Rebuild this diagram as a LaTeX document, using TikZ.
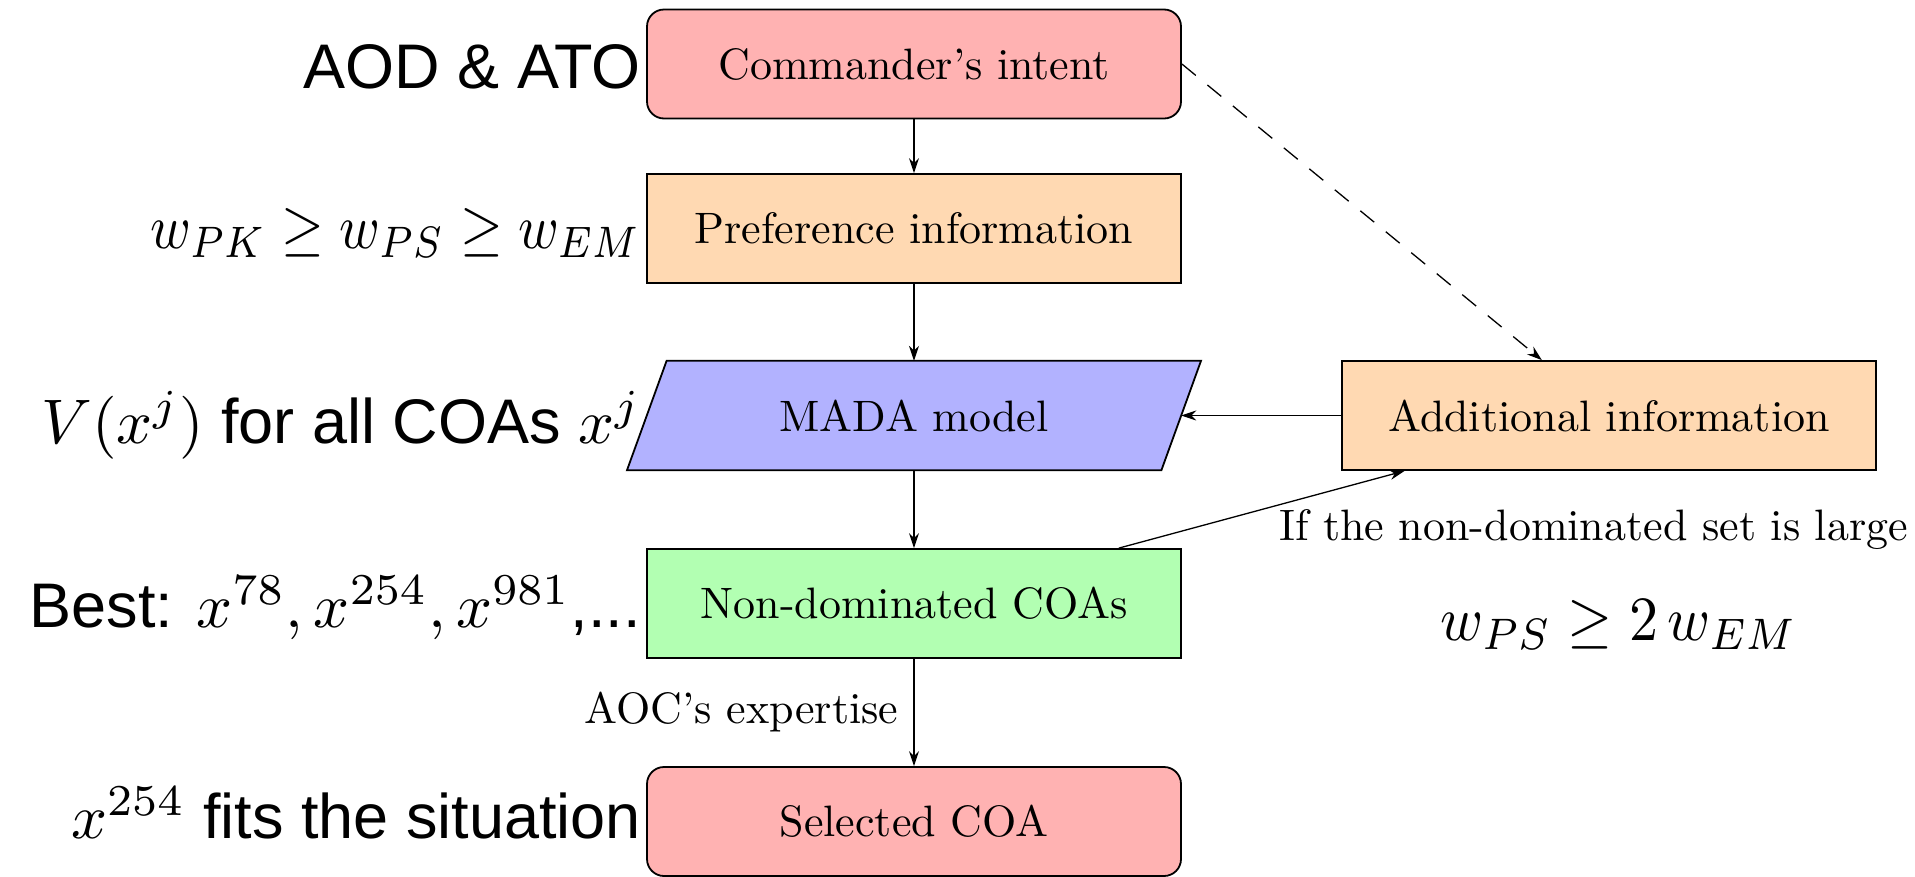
\documentclass[tikz,border=0pt]{standalone}
\usepackage{fontspec}
\newfontfamily\arialf{Liberation Sans}
\usepackage{graphicx}
\usetikzlibrary{arrows.meta,backgrounds}
\newcommand{\BoxTxt}[1]{\scalebox{4.4}{#1}}
\newcommand{\SansTxt}[1]{\scalebox{6.3}{\arialf #1}}
\newcommand{\MathTxt}[2]{\scalebox{#1}[6.3]{#2}}
\tikzset{
  boxbase/.style={rectangle, minimum width=534pt, minimum height=109pt, inner sep=0pt, draw=black, line width=1.8pt, text=black},
  startstop/.style={boxbase, rounded corners=17pt, fill=red!30},
  process/.style={boxbase, fill=orange!30},
  ndbox/.style={boxbase, fill=green!30},
  iobox/.style={rectangle, minimum width=534pt, minimum height=109pt, inner sep=0pt, text=black},
  arr/.style={-{Stealth[length=15pt,width=10pt]}, line width=1.3pt, draw=black},
  dasharr/.style={arr, dash pattern=on 18pt off 15pt},
  lbl/.style={inner sep=0pt, text=black}
}
\begin{document}
\begin{tikzpicture}[x=1pt,y=-1pt]
\useasboundingbox (0,0) rectangle (1915,876);
% boxes
\node[startstop] (cmd) at (914,64) {\BoxTxt{Commander's intent}};
\node[process] (pref) at (914,228.5) {\BoxTxt{Preference information}};
\node[iobox] (mada) at (914,415.5) {\BoxTxt{MADA model}};
\begin{scope}[on background layer]
\filldraw[fill=blue!30, draw=black, line width=1.8pt]
  ([xshift=19.8pt]mada.north west) -- ([xshift=19.8pt]mada.north east) --
  ([xshift=-19.8pt]mada.south east) -- ([xshift=-19.8pt]mada.south west) -- cycle;
\end{scope}
\node[process] (add) at (1609,415.5) {\BoxTxt{Additional information}};
\node[ndbox] (nd) at (914,603.5) {\BoxTxt{Non-dominated COAs}};
\node[startstop] (sel) at (914,821.5) {\BoxTxt{Selected COA}};
% connectors
\draw[arr] (cmd) -- (pref);
\draw[arr] (pref) -- (mada);
\draw[arr] (mada) -- (nd);
\draw[arr] (nd) -- node[lbl, midway, anchor=base east, xshift=-15pt, yshift=-11pt] (aoc) {\BoxTxt{AOC's expertise}} (sel);
\draw[arr] (add.west) -- (mada.east);
\draw[arr] (nd) -- (add);
\draw[dasharr] (cmd.east) -- (add);
% side labels
\node[lbl, anchor=base east] (l1) at (641,88) {\SansTxt{AOD \& ATO}};
\node[lbl, anchor=base east] (l2) at (641,248) {\MathTxt{5.5}{$w_{PK}\geq w_{PS}\geq w_{EM}$}};
\node[lbl, anchor=base east] (l3) at (641,443) {\SansTxt{$V(x^j)$ for all COAs $x^j$}};
\node[lbl, anchor=base east] (l4) at (641,627) {\SansTxt{Best: $x^{78},x^{254},x^{981}$,...}};
\node[lbl, anchor=base east] (l5) at (641,838) {\SansTxt{$x^{254}$ fits the situation}};
\node[lbl, anchor=base west] (r0) at (1279,540) {\BoxTxt{If the non-dominated set is large}};
\node[lbl, anchor=base] (r1) at (1619,640) {\MathTxt{5.8}{$w_{PS}\geq 2\,w_{EM}$}};
\end{tikzpicture}
\end{document}
